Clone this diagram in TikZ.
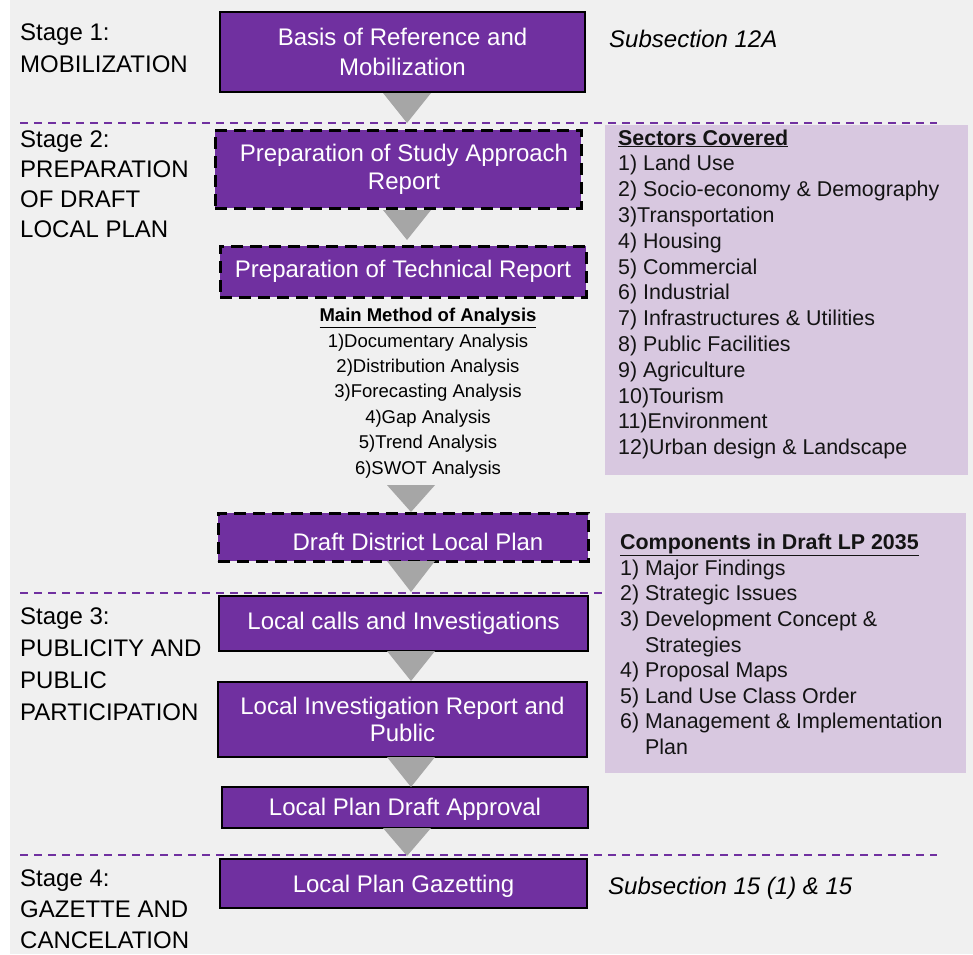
\documentclass[tikz,border=0pt]{standalone}
\usepackage{fontspec}
\setmainfont{Liberation Sans}
\usetikzlibrary{calc}
\definecolor{bgc}{HTML}{F0F0F0}
\definecolor{boxp}{HTML}{7030A0}
\definecolor{lightp}{HTML}{D8C8E0}
\definecolor{arrc}{HTML}{A6A6A6}
\definecolor{txtd}{HTML}{141414}
\newcommand{\setfs}[2]{\fontsize{#1}{#2}\selectfont}
% triangle connector: start node anchor, end node anchor, axis coordinate, start offset, end offset
\newcommand{\tri}[5]{\fill[arrc] ($(#1 -| #3)+(-24pt,-#4)$) -- ($(#1 -| #3)+(24pt,-#4)$) -- ($(#2 -| #3)+(0pt,#5)$) -- cycle;}
\tikzset{
  pbox/.style={draw=black, line width=1.5pt, fill=boxp, text=white, align=center,
    font=\setfs{24}{30}, inner sep=0pt, outer sep=0pt},
  pdash/.style={pbox, line width=3pt, dash pattern=on 12pt off 7pt},
  stagetxt/.style={anchor=north west, align=left, inner sep=0pt, text=black},
  subtxt/.style={anchor=base west, inner sep=0pt, text=black, font=\setfs{24}{30}\itshape},
  sepline/.style={draw=boxp, line width=2pt, dash pattern=on 8pt off 6pt},
  lbox/.style={fill=lightp, inner sep=0pt, outer sep=0pt, anchor=north west},
  ltxt/.style={anchor=north west, align=left, inner sep=0pt, text=txtd},
}
\begin{document}
\begin{tikzpicture}[x=1pt, y=-1pt]
\useasboundingbox (0,0) rectangle (973,954);
\fill[white] (0,0) rectangle (973,954);
\fill[bgc] (10,0) rectangle (973,954);

\coordinate (ax1) at (407,0);
\coordinate (ax2) at (411,0);

% stage labels
\node[stagetxt, font=\setfs{24}{32}] (st1) at (20,24) {Stage 1:\\MOBILIZATION};
\node[stagetxt, font=\setfs{24}{30}] (st2) at (20,131) {Stage 2:\\PREPARATION\\OF DRAFT\\LOCAL PLAN};
\node[stagetxt, font=\setfs{24}{32}] (st3) at (20,608) {Stage 3:\\PUBLICITY AND\\PUBLIC\\PARTICIPATION};
\node[stagetxt, font=\setfs{24}{31}] (st4) at (20,870) {Stage 4:\\GAZETTE AND\\CANCELATION};

% process boxes
\node[pbox, minimum width=365, minimum height=80] (b1) at (402.5,52) {Basis of Reference and\\Mobilization};
\node[pdash, minimum width=366, minimum height=78, font=\setfs{24}{28}] (b2) at (398,169) {\hspace*{12pt}Preparation of Study Approach\\\hspace*{12pt}Report};
\node[pdash, minimum width=366, minimum height=51] (b3) at (403,271.5) {Preparation of Technical Report};
\node[pdash, minimum width=370, minimum height=48, text height=26pt, text depth=0pt] (b4) at (403,537) {\hspace*{30pt}Draft District Local Plan};
\node[pbox, minimum width=369, minimum height=55] (b5) at (403.5,623.5) {Local calls and Investigations};
\node[pbox, minimum width=369, minimum height=75, font=\setfs{24}{27}] (b6) at (402.5,719.5) {Local Investigation Report and\\Public};
\node[pbox, minimum width=366, minimum height=41, text height=20pt, text depth=5pt] (b7) at (405,807.5) {Local Plan Draft Approval};
\node[pbox, minimum width=367, minimum height=49, text height=22pt, text depth=5pt] (b8) at (403.5,883.5) {Local Plan Gazetting};

% subsection notes
\node[subtxt] (n1) at (609,47) {Subsection 12A};
\node[subtxt] (n2) at (608,894) {Subsection 15 (1) \& 15};

% main method of analysis
\node[anchor=north, align=center, inner sep=0pt, text=black, font=\setfs{18.5}{25.4}] (mm) at (428,308)
  {\underline{\textbf{Main Method of Analysis}}\\
   1)Documentary Analysis\\
   2)Distribution Analysis\\
   3)Forecasting Analysis\\
   4)Gap Analysis\\
   5)Trend Analysis\\
   6)SWOT Analysis};

% triangle connectors
\tri{b1.south}{b2.north}{ax1}{1pt}{7pt}
\tri{b2.south}{b3.north}{ax1}{2pt}{6pt}
\tri{mm.south}{b4.north}{ax2}{7pt}{1pt}
\tri{b4.south}{b5.north}{ax2}{0pt}{4pt}
\tri{b5.south}{b6.north}{ax2}{0pt}{1pt}
\tri{b6.south}{b7.north}{ax2}{0pt}{0pt}
\tri{b7.south}{b8.north}{ax1}{0pt}{3pt}

% stage separators
\draw[sepline] (20,123) -- (937,123);
\draw[sepline] (20,593) -- (937,593);
\draw[sepline] (20,855) -- (937,855);

% sectors covered
\node[lbox, minimum width=363, minimum height=350] (secbox) at (605,125) {};
\node[ltxt, font=\setfs{21.4}{25.8}] (sectxt) at (618,129.3)
  {\underline{\textbf{Sectors Covered}}\\
   1) Land Use\\
   2) Socio-economy \& Demography\\
   3)Transportation\\
   4) Housing\\
   5) Commercial\\
   6) Industrial\\
   7) Infrastructures \& Utilities\\
   8) Public Facilities\\
   9) Agriculture\\
   10)Tourism\\
   11)Environment\\
   12)Urban design \& Landscape};

% components
\node[lbox, minimum width=361, minimum height=260] (compbox) at (605,513) {};
\node[ltxt, font=\setfs{21.4}{25.6}] (comptxt) at (620,534)
  {\underline{\textbf{Components in Draft LP 2035}}\\
   1) Major Findings\\
   2) Strategic Issues\\
   3) Development Concept \&\\
   \phantom{3) }Strategies\\
   4) Proposal Maps\\
   5) Land Use Class Order\\
   6) Management \& Implementation\\
   \phantom{6) }Plan};
\end{tikzpicture}
\end{document}
